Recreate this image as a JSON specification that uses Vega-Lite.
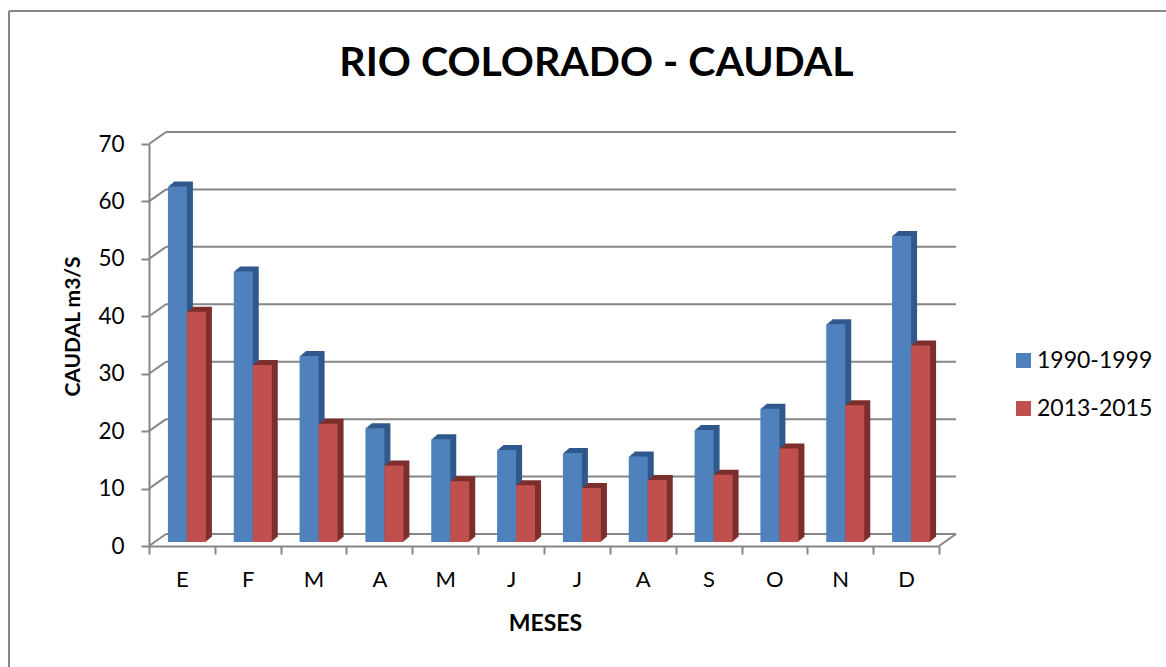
{"$schema":"https://vega.github.io/schema/vega-lite/v6.json","width":1157,"height":656,"autosize":"none","padding":{"left":9,"top":11,"right":0,"bottom":0},"background":"white","config":{"view":{"stroke":null},"font":"Lato"},"title":{"text":"RIO COLORADO - CAUDAL","font":"Lato","fontSize":41,"fontWeight":"bold","color":"black","anchor":"middle","frame":"group","dx":9,"offset":-75},"datasets":{"rows":[{"m":"Ene","s":"1990-1999","v":61.9},{"m":"Feb","s":"1990-1999","v":47.1},{"m":"Mar","s":"1990-1999","v":32.4},{"m":"Abr","s":"1990-1999","v":19.8},{"m":"May","s":"1990-1999","v":17.9},{"m":"Jun","s":"1990-1999","v":16},{"m":"Jul","s":"1990-1999","v":15.5},{"m":"Ago","s":"1990-1999","v":14.9},{"m":"Sep","s":"1990-1999","v":19.5},{"m":"Oct","s":"1990-1999","v":23.2},{"m":"Nov","s":"1990-1999","v":37.9},{"m":"Dic","s":"1990-1999","v":53.3},{"m":"Ene","s":"2013-2015","v":40.1},{"m":"Feb","s":"2013-2015","v":30.8},{"m":"Mar","s":"2013-2015","v":20.6},{"m":"Abr","s":"2013-2015","v":13.3},{"m":"May","s":"2013-2015","v":10.6},{"m":"Jun","s":"2013-2015","v":9.9},{"m":"Jul","s":"2013-2015","v":9.4},{"m":"Ago","s":"2013-2015","v":10.8},{"m":"Sep","s":"2013-2015","v":11.7},{"m":"Oct","s":"2013-2015","v":16.3},{"m":"Nov","s":"2013-2015","v":23.8},{"m":"Dic","s":"2013-2015","v":34.2}],"wall":[{"v":0,"a":0,"b":790},{"v":10,"a":0,"b":790},{"v":20,"a":0,"b":790},{"v":30,"a":0,"b":790},{"v":40,"a":0,"b":790},{"v":50,"a":0,"b":790},{"v":60,"a":0,"b":790},{"v":70,"a":0,"b":790}],"floorEdge":[{"v":0,"a":790}],"frameTop":[{"v":93.15,"a":-140,"b":1020}],"frameLeft":[{"v":93.15,"w":-22,"a":-140}]},"resolve":{"scale":{"x":"independent"}},"layer":[{"data":{"name":"frameTop"},"mark":{"type":"rule","color":"#868686","strokeWidth":2,"clip":false},"encoding":{"x":{"field":"a","type":"quantitative","scale":{"domain":[0,790],"range":[140,930]},"axis":null},"x2":{"field":"b"},"y":{"field":"v","type":"quantitative"}}},{"data":{"name":"frameLeft"},"mark":{"type":"rule","color":"#868686","strokeWidth":2,"clip":false},"encoding":{"x":{"field":"a","type":"quantitative","scale":{"domain":[0,790],"range":[140,930]},"axis":null},"y":{"field":"v","type":"quantitative"},"y2":{"field":"w"}}},{"data":{"name":"wall"},"mark":{"type":"rule","color":"#868686","strokeWidth":2,"xOffset":17,"x2Offset":17,"yOffset":-12,"y2Offset":-12},"encoding":{"x":{"field":"a","type":"quantitative","scale":{"domain":[0,790],"range":[140,930]},"axis":null},"x2":{"field":"b"},"y":{"field":"v","type":"quantitative","scale":{"domain":[0,70],"range":[535,133]},"axis":{"values":[0,10,20,30,40,50,60,70],"orient":"left","offset":-140,"grid":false,"domainColor":"#868686","domainWidth":2,"tickColor":"#868686","tickWidth":2,"tickSize":8,"labelFont":"Lato","labelFontSize":22.5,"labelColor":"black","labelPadding":17,"title":"CAUDAL m3/S","titleFont":"Lato","titleFontSize":21,"titleFontWeight":"bold","titleColor":"black","titleX":-66,"titleY":315}},"y2":{"field":"v"}}},{"data":{"name":"wall"},"mark":{"type":"rule","color":"#868686","strokeWidth":2,"x2Offset":17,"y2Offset":-12},"encoding":{"x":{"field":"a","type":"quantitative","scale":{"domain":[0,790],"range":[140,930]},"axis":null},"x2":{"field":"a"},"y":{"field":"v","type":"quantitative"},"y2":{"field":"v"}}},{"data":{"name":"floorEdge"},"mark":{"type":"rule","color":"#868686","strokeWidth":2,"x2Offset":17,"y2Offset":-12},"encoding":{"x":{"field":"a","type":"quantitative","scale":{"domain":[0,790],"range":[140,930]},"axis":null},"x2":{"field":"a"},"y":{"field":"v","type":"quantitative"},"y2":{"field":"v"}}},{"data":{"name":"rows"},"layer":[{"transform":[{"filter":"datum.s==='1990-1999'"}],"layer":[{"mark":{"type":"bar","width":19,"color":"#30598c","xOffset":1.5,"x2Offset":1.5,"yOffset":-9,"y2Offset":-9}},{"mark":{"type":"bar","width":19,"color":"#30598c","xOffset":0.5,"x2Offset":0.5,"yOffset":-8.2,"y2Offset":-8.2}},{"mark":{"type":"bar","width":19,"color":"#30598c","xOffset":-0.5,"x2Offset":-0.5,"yOffset":-7.3,"y2Offset":-7.3}},{"mark":{"type":"bar","width":19,"color":"#30598c","xOffset":-1.5,"x2Offset":-1.5,"yOffset":-6.5,"y2Offset":-6.5}},{"mark":{"type":"bar","width":19,"color":"#30598c","xOffset":-2.5,"x2Offset":-2.5,"yOffset":-5.7,"y2Offset":-5.7}},{"mark":{"type":"bar","width":19,"color":"#30598c","xOffset":-3.5,"x2Offset":-3.5,"yOffset":-4.8,"y2Offset":-4.8}},{"mark":{"type":"bar","width":19,"xOffset":-4.5,"x2Offset":-4.5,"yOffset":-4,"y2Offset":-4},"encoding":{"color":{"field":"s","type":"nominal","scale":{"domain":["1990-1999","2013-2015"],"range":["#4f81bd","#c0504d"]},"legend":{"orient":"none","legendX":1003,"legendY":338,"title":null,"symbolType":"square","symbolSize":225,"symbolStrokeWidth":0,"labelFont":"Lato","labelFontSize":23,"labelColor":"black","labelOffset":2,"rowPadding":24}}}}]},{"transform":[{"filter":"datum.s==='2013-2015'"}],"layer":[{"mark":{"type":"bar","width":19,"color":"#7d2f2d","xOffset":20.5,"x2Offset":20.5,"yOffset":-9,"y2Offset":-9}},{"mark":{"type":"bar","width":19,"color":"#7d2f2d","xOffset":19.5,"x2Offset":19.5,"yOffset":-8.2,"y2Offset":-8.2}},{"mark":{"type":"bar","width":19,"color":"#7d2f2d","xOffset":18.5,"x2Offset":18.5,"yOffset":-7.3,"y2Offset":-7.3}},{"mark":{"type":"bar","width":19,"color":"#7d2f2d","xOffset":17.5,"x2Offset":17.5,"yOffset":-6.5,"y2Offset":-6.5}},{"mark":{"type":"bar","width":19,"color":"#7d2f2d","xOffset":16.5,"x2Offset":16.5,"yOffset":-5.7,"y2Offset":-5.7}},{"mark":{"type":"bar","width":19,"color":"#7d2f2d","xOffset":15.5,"x2Offset":15.5,"yOffset":-4.8,"y2Offset":-4.8}},{"mark":{"type":"bar","width":19,"xOffset":14.5,"x2Offset":14.5,"yOffset":-4,"y2Offset":-4},"encoding":{"color":{"field":"s","type":"nominal"}}}]}],"encoding":{"x":{"field":"m","type":"nominal","sort":["Ene","Feb","Mar","Abr","May","Jun","Jul","Ago","Sep","Oct","Nov","Dic"],"scale":{"domain":["Ene","Feb","Mar","Abr","May","Jun","Jul","Ago","Sep","Oct","Nov","Dic"],"range":[140,930],"paddingInner":0,"paddingOuter":0},"axis":{"orient":"bottom","offset":-121,"labelExpr":"substring(datum.label,0,1)","labelAngle":0,"tickBand":"extent","domainColor":"#868686","domainWidth":2,"tickColor":"#868686","tickWidth":2,"tickSize":8,"labelFont":"Lato","labelFontSize":22,"labelColor":"black","labelPadding":15,"title":"MESES","titleFont":"Lato","titleFontSize":23,"titleFontWeight":"bold","titleColor":"black","titleX":536,"titleY":66}},"y":{"field":"v","type":"quantitative"}}}]}
